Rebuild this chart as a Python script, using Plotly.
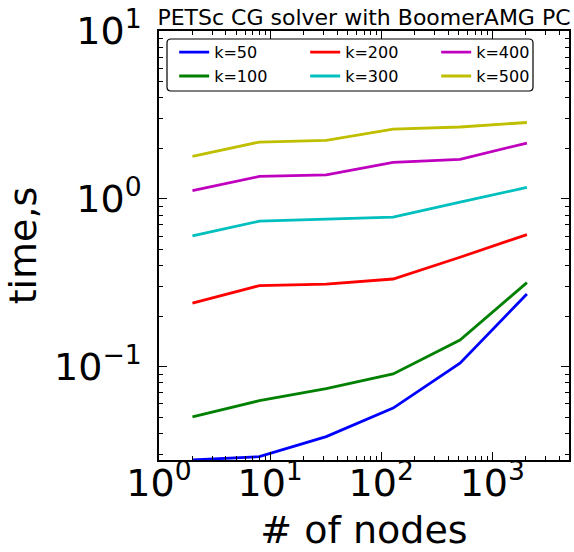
import math
import plotly.graph_objects as go

# Solver timing for PETSc CG with BoomerAMG preconditioning
nodes = [2, 8, 32, 128, 512, 2048]

k_labels = ["k=50", "k=100", "k=200", "k=300", "k=400", "k=500"]
time_k50 = [0.0278, 0.0291, 0.0383, 0.0567, 0.1048, 0.271]
time_k100 = [0.0503, 0.0627, 0.0739, 0.0905, 0.144, 0.317]
time_k200 = [0.239, 0.304, 0.310, 0.333, 0.449, 0.612]
time_k300 = [0.602, 0.736, 0.757, 0.778, 0.956, 1.17]
time_k400 = [1.12, 1.36, 1.39, 1.65, 1.72, 2.15]
time_k500 = [1.79, 2.18, 2.23, 2.60, 2.68, 2.85]

series = [time_k50, time_k100, time_k200, time_k300, time_k400, time_k500]
colors = ["#0000ff", "#008000", "#ff0000", "#00bfbf", "#bf00bf", "#bfbf00"]
# legend is filled row by row, three columns
legend_rank = [1, 4, 2, 5, 3, 6]

x_tickvals = [1, 10, 100, 1000]
x_ticktext = ["10<sup>0</sup>", "10<sup>1</sup>", "10<sup>2</sup>", "10<sup>3</sup>"]
y_tickvals = [0.1, 1, 10]
y_ticktext = ["10<sup>\u22121</sup>", "10<sup>0</sup>", "10<sup>1</sup>"]

x_minor = [m * 10 ** e for e in range(0, 4) for m in range(2, 10)]
y_minor = [m * 10 ** e for e in range(-2, 1) for m in range(2, 10)]

fig = go.Figure()
for label, ys, c, r in zip(k_labels, series, colors, legend_rank):
    fig.add_trace(go.Scatter(
        x=nodes, y=ys, mode="lines", name=label,
        line=dict(color=c, width=2.8), legendrank=r,
    ))

y_min = min(time_k50)

axis_common = dict(
    type="log",
    showgrid=False,
    zeroline=False,
    showline=True,
    linecolor="black",
    linewidth=1.5,
    mirror="ticks",
    ticks="inside",
    ticklen=8,
    tickwidth=1,
    tickcolor="black",
    tickfont=dict(family="DejaVu Sans", size=38, color="black"),
)

fig.update_xaxes(
    **axis_common,
    range=[0, math.log10(4900)],
    tickvals=x_tickvals,
    ticktext=x_ticktext,
    ticklabelstandoff=-11,
    minor=dict(tickvals=x_minor, ticks="inside", ticklen=4, tickwidth=1, tickcolor="black"),
    title=dict(text="# of nodes", font=dict(family="DejaVu Sans", size=38, color="black"), standoff=12),
)
fig.update_yaxes(
    **axis_common,
    range=[math.log10(y_min), 1],
    tickvals=y_tickvals,
    ticktext=y_ticktext,
    ticklabelstandoff=8,
    minor=dict(tickvals=y_minor, ticks="inside", ticklen=4, tickwidth=1, tickcolor="black"),
    title=dict(text="time,s", font=dict(family="DejaVu Sans", size=38, color="black"), standoff=6),
)

# rounded legend frame (paper coordinates of the plot area)
pw, ph = 410.0, 429.0
bx0, bx1 = (167 - 159) / pw, (533 - 159) / pw
by1, by0 = (460 - 39) / ph, (460 - 91) / ph
rx, ry = 4 / pw, 4 / ph
frame = (
    f"M {bx0 + rx},{by1} L {bx1 - rx},{by1} Q {bx1},{by1} {bx1},{by1 - ry} "
    f"L {bx1},{by0 + ry} Q {bx1},{by0} {bx1 - rx},{by0} "
    f"L {bx0 + rx},{by0} Q {bx0},{by0} {bx0},{by0 + ry} "
    f"L {bx0},{by1 - ry} Q {bx0},{by1} {bx0 + rx},{by1} Z"
)

fig.update_layout(
    width=574,
    height=552,
    margin=dict(l=159, r=5, t=31, b=92, autoexpand=False),
    paper_bgcolor="white",
    plot_bgcolor="white",
    title=dict(
        text="PETSc CG solver with BoomerAMG PC",
        font=dict(family="DejaVu Sans", size=22, color="black"),
        x=0.5, xref="paper", xanchor="center",
        y=1 - 17 / 552, yref="container", yanchor="middle",
    ),
    shapes=[dict(
        type="path", path=frame, xref="paper", yref="paper",
        line=dict(color="black", width=1.2), fillcolor="white", layer="below",
    )],
    legend=dict(
        orientation="h",
        x=0.037, xanchor="left",
        y=0.99, yanchor="top",
        entrywidth=86, entrywidthmode="pixels",
        borderwidth=0,
        bgcolor="rgba(0,0,0,0)",
        font=dict(family="DejaVu Sans", size=16, color="black"),
        traceorder="normal",
    ),
    showlegend=True,
)

fig.write_html("out.html")
